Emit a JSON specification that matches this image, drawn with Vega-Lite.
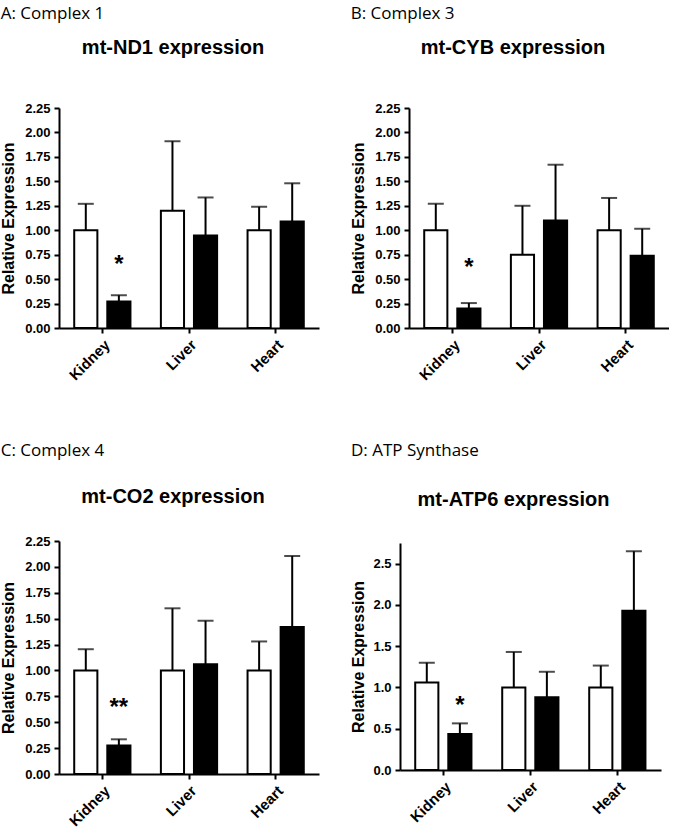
{
  "$schema": "https://vega.github.io/schema/vega-lite/v6.json",
  "padding": {"left": 0, "top": 5, "right": 0, "bottom": 0},
  "background": "white",
  "config": {
    "view": {"stroke": null},
    "font": "Liberation Sans",
    "axis": {"domainColor": "black", "domainWidth": 2, "tickColor": "black", "tickWidth": 2, "tickSize": 5, "labelColor": "black", "labelFont": "Liberation Sans", "labelFontWeight": "bold", "labelFontSize": 13, "labelPadding": 4, "labelOverlap": false, "titleColor": "black", "titleFont": "Liberation Sans", "titleFontWeight": "bold", "titleFontSize": 16, "grid": false},
    "title": {"font": "Liberation Sans", "fontWeight": "bold", "fontSize": 20, "color": "black"}
  },
  "columns": 2,
  "align": "none",
  "spacing": {"row": 51, "column": 31},
  "concat": [
    {
      "title": {"text": "A: Complex 1", "anchor": "start", "frame": "bounds", "font": "Open Sans", "fontWeight": "normal", "fontSize": 17, "offset": 15},
      "vconcat": [{
        "width": 260, "height": 220,
        "title": {"text": "mt-ND1 expression", "dx": -16, "offset": 44},
        "data": {"values": [
          {"tissue": "Kidney", "group": "Control", "mean": 1.00, "upper": 1.27},
          {"tissue": "Kidney", "group": "Treated", "mean": 0.27, "upper": 0.335, "sig": "*"},
          {"tissue": "Liver", "group": "Control", "mean": 1.20, "upper": 1.91},
          {"tissue": "Liver", "group": "Treated", "mean": 0.945, "upper": 1.335},
          {"tissue": "Heart", "group": "Control", "mean": 1.00, "upper": 1.24},
          {"tissue": "Heart", "group": "Treated", "mean": 1.09, "upper": 1.48}
        ]},
        "encoding": {
          "x": {"field": "tissue", "type": "nominal", "sort": ["Kidney", "Liver", "Heart"], "scale": {"paddingInner": 0, "paddingOuter": 0}, "axis": {"title": null, "labelAngle": -45, "labelFontSize": 15}},
          "xOffset": {"field": "group", "type": "nominal", "sort": ["Control", "Treated"], "scale": {"paddingInner": 0.3, "paddingOuter": 0.46}}
        },
        "layer": [
          {"mark": {"type": "bar", "stroke": "black", "strokeWidth": 2},
           "encoding": {
             "y": {"field": "mean", "type": "quantitative", "scale": {"domain": [0, 2.25], "nice": false}, "axis": {"title": "Relative Expression", "values": [0, 0.25, 0.5, 0.75, 1, 1.25, 1.5, 1.75, 2, 2.25], "format": ".2f", "titlePadding": 8, "labelOverlap": false}},
             "fill": {"field": "group", "type": "nominal", "scale": {"domain": ["Control", "Treated"], "range": ["white", "black"]}, "legend": null}
           }},
          {"mark": {"type": "rule", "strokeWidth": 2, "color": "black"}, "encoding": {"y": {"field": "mean", "type": "quantitative", "axis": {"title": "Relative Expression", "values": [0, 0.25, 0.5, 0.75, 1, 1.25, 1.5, 1.75, 2, 2.25], "format": ".2f", "titlePadding": 8, "labelOverlap": false}}, "y2": {"field": "upper"}}},
          {"mark": {"type": "tick", "thickness": 2, "size": 16, "color": "black"}, "encoding": {"y": {"field": "upper", "type": "quantitative", "axis": {"title": "Relative Expression", "values": [0, 0.25, 0.5, 0.75, 1, 1.25, 1.5, 1.75, 2, 2.25], "format": ".2f", "titlePadding": 8, "labelOverlap": false}}}},
          {"transform": [{"filter": "isValid(datum.sig)"}], "mark": {"type": "text", "fontSize": 24, "fontWeight": "bold", "baseline": "middle", "dy": -30, "color": "black"}, "encoding": {"y": {"field": "upper", "type": "quantitative", "axis": {"title": "Relative Expression", "values": [0, 0.25, 0.5, 0.75, 1, 1.25, 1.5, 1.75, 2, 2.25], "format": ".2f", "titlePadding": 8, "labelOverlap": false}}, "text": {"field": "sig"}}}
        ]
      }]
    },
    {
      "title": {"text": "B: Complex 3", "anchor": "start", "frame": "bounds", "font": "Open Sans", "fontWeight": "normal", "fontSize": 17, "offset": 15},
      "vconcat": [{
        "width": 260, "height": 220,
        "title": {"text": "mt-CYB expression", "dx": -26, "offset": 44},
        "data": {"values": [
          {"tissue": "Kidney", "group": "Control", "mean": 1.00, "upper": 1.27},
          {"tissue": "Kidney", "group": "Treated", "mean": 0.20, "upper": 0.255, "sig": "*"},
          {"tissue": "Liver", "group": "Control", "mean": 0.75, "upper": 1.25},
          {"tissue": "Liver", "group": "Treated", "mean": 1.10, "upper": 1.67},
          {"tissue": "Heart", "group": "Control", "mean": 1.00, "upper": 1.33},
          {"tissue": "Heart", "group": "Treated", "mean": 0.74, "upper": 1.015}
        ]},
        "encoding": {
          "x": {"field": "tissue", "type": "nominal", "sort": ["Kidney", "Liver", "Heart"], "scale": {"paddingInner": 0, "paddingOuter": 0}, "axis": {"title": " ", "titleFontSize": 8, "titlePadding": 0, "labelAngle": -45, "labelFontSize": 15}},
          "xOffset": {"field": "group", "type": "nominal", "sort": ["Control", "Treated"], "scale": {"paddingInner": 0.3, "paddingOuter": 0.46}}
        },
        "layer": [
          {"mark": {"type": "bar", "stroke": "black", "strokeWidth": 2},
           "encoding": {
             "y": {"field": "mean", "type": "quantitative", "scale": {"domain": [0, 2.25], "nice": false}, "axis": {"title": "Relative Expression", "values": [0, 0.25, 0.5, 0.75, 1, 1.25, 1.5, 1.75, 2, 2.25], "format": ".2f", "titlePadding": 8, "labelOverlap": false}},
             "fill": {"field": "group", "type": "nominal", "scale": {"domain": ["Control", "Treated"], "range": ["white", "black"]}, "legend": null}
           }},
          {"mark": {"type": "rule", "strokeWidth": 2, "color": "black"}, "encoding": {"y": {"field": "mean", "type": "quantitative", "axis": {"title": "Relative Expression", "values": [0, 0.25, 0.5, 0.75, 1, 1.25, 1.5, 1.75, 2, 2.25], "format": ".2f", "titlePadding": 8, "labelOverlap": false}}, "y2": {"field": "upper"}}},
          {"mark": {"type": "tick", "thickness": 2, "size": 16, "color": "black"}, "encoding": {"y": {"field": "upper", "type": "quantitative", "axis": {"title": "Relative Expression", "values": [0, 0.25, 0.5, 0.75, 1, 1.25, 1.5, 1.75, 2, 2.25], "format": ".2f", "titlePadding": 8, "labelOverlap": false}}}},
          {"transform": [{"filter": "isValid(datum.sig)"}], "mark": {"type": "text", "fontSize": 24, "fontWeight": "bold", "baseline": "middle", "dy": -35, "color": "black"}, "encoding": {"y": {"field": "upper", "type": "quantitative", "axis": {"title": "Relative Expression", "values": [0, 0.25, 0.5, 0.75, 1, 1.25, 1.5, 1.75, 2, 2.25], "format": ".2f", "titlePadding": 8, "labelOverlap": false}}, "text": {"field": "sig"}}}
        ]
      }]
    },
    {
      "title": {"text": "C: Complex 4", "anchor": "start", "frame": "bounds", "font": "Open Sans", "fontWeight": "normal", "fontSize": 17, "offset": 27},
      "vconcat": [{
        "width": 260, "height": 233,
        "title": {"text": "mt-CO2 expression", "dx": -16, "offset": 28},
        "data": {"values": [
          {"tissue": "Kidney", "group": "Control", "mean": 1.00, "upper": 1.205},
          {"tissue": "Kidney", "group": "Treated", "mean": 0.275, "upper": 0.335, "sig": "**"},
          {"tissue": "Liver", "group": "Control", "mean": 1.00, "upper": 1.60},
          {"tissue": "Liver", "group": "Treated", "mean": 1.06, "upper": 1.48},
          {"tissue": "Heart", "group": "Control", "mean": 1.00, "upper": 1.28},
          {"tissue": "Heart", "group": "Treated", "mean": 1.42, "upper": 2.105}
        ]},
        "encoding": {
          "x": {"field": "tissue", "type": "nominal", "sort": ["Kidney", "Liver", "Heart"], "scale": {"paddingInner": 0, "paddingOuter": 0}, "axis": {"title": null, "labelAngle": -45, "labelFontSize": 15}},
          "xOffset": {"field": "group", "type": "nominal", "sort": ["Control", "Treated"], "scale": {"paddingInner": 0.3, "paddingOuter": 0.46}}
        },
        "layer": [
          {"mark": {"type": "bar", "stroke": "black", "strokeWidth": 2},
           "encoding": {
             "y": {"field": "mean", "type": "quantitative", "scale": {"domain": [0, 2.25], "nice": false}, "axis": {"title": "Relative Expression", "values": [0, 0.25, 0.5, 0.75, 1, 1.25, 1.5, 1.75, 2, 2.25], "format": ".2f", "titlePadding": 8, "labelOverlap": false}},
             "fill": {"field": "group", "type": "nominal", "scale": {"domain": ["Control", "Treated"], "range": ["white", "black"]}, "legend": null}
           }},
          {"mark": {"type": "rule", "strokeWidth": 2, "color": "black"}, "encoding": {"y": {"field": "mean", "type": "quantitative", "axis": {"title": "Relative Expression", "values": [0, 0.25, 0.5, 0.75, 1, 1.25, 1.5, 1.75, 2, 2.25], "format": ".2f", "titlePadding": 8, "labelOverlap": false}}, "y2": {"field": "upper"}}},
          {"mark": {"type": "tick", "thickness": 2, "size": 16, "color": "black"}, "encoding": {"y": {"field": "upper", "type": "quantitative", "axis": {"title": "Relative Expression", "values": [0, 0.25, 0.5, 0.75, 1, 1.25, 1.5, 1.75, 2, 2.25], "format": ".2f", "titlePadding": 8, "labelOverlap": false}}}},
          {"transform": [{"filter": "isValid(datum.sig)"}], "mark": {"type": "text", "fontSize": 24, "fontWeight": "bold", "baseline": "middle", "dy": -31, "color": "black"}, "encoding": {"y": {"field": "upper", "type": "quantitative", "axis": {"title": "Relative Expression", "values": [0, 0.25, 0.5, 0.75, 1, 1.25, 1.5, 1.75, 2, 2.25], "format": ".2f", "titlePadding": 8, "labelOverlap": false}}, "text": {"field": "sig"}}}
        ]
      }]
    },
    {
      "title": {"text": "D: ATP Synthase", "anchor": "start", "frame": "bounds", "font": "Open Sans", "fontWeight": "normal", "fontSize": 17, "offset": 30},
      "vconcat": [{
        "width": 261, "height": 227,
        "title": {"text": "mt-ATP6 expression", "dx": -17, "offset": 33},
        "data": {"values": [
          {"tissue": "Kidney", "group": "Control", "mean": 1.06, "upper": 1.30},
          {"tissue": "Kidney", "group": "Treated", "mean": 0.435, "upper": 0.565, "sig": "*"},
          {"tissue": "Liver", "group": "Control", "mean": 1.00, "upper": 1.43},
          {"tissue": "Liver", "group": "Treated", "mean": 0.88, "upper": 1.19},
          {"tissue": "Heart", "group": "Control", "mean": 1.00, "upper": 1.265},
          {"tissue": "Heart", "group": "Treated", "mean": 1.93, "upper": 2.65}
        ]},
        "encoding": {
          "x": {"field": "tissue", "type": "nominal", "sort": ["Kidney", "Liver", "Heart"], "scale": {"paddingInner": 0, "paddingOuter": 0}, "axis": {"title": null, "labelAngle": -45, "labelFontSize": 15}},
          "xOffset": {"field": "group", "type": "nominal", "sort": ["Control", "Treated"], "scale": {"paddingInner": 0.3, "paddingOuter": 0.46}}
        },
        "layer": [
          {"mark": {"type": "bar", "stroke": "black", "strokeWidth": 2},
           "encoding": {
             "y": {"field": "mean", "type": "quantitative", "scale": {"domain": [0, 2.75], "nice": false}, "axis": {"title": "Relative Expression", "values": [0, 0.5, 1, 1.5, 2, 2.5], "format": ".1f", "titlePadding": 6, "labelOverlap": false}},
             "fill": {"field": "group", "type": "nominal", "scale": {"domain": ["Control", "Treated"], "range": ["white", "black"]}, "legend": null}
           }},
          {"mark": {"type": "rule", "strokeWidth": 2, "color": "black"}, "encoding": {"y": {"field": "mean", "type": "quantitative", "axis": {"title": "Relative Expression", "values": [0, 0.5, 1, 1.5, 2, 2.5], "format": ".1f", "titlePadding": 6, "labelOverlap": false}}, "y2": {"field": "upper"}}},
          {"mark": {"type": "tick", "thickness": 2, "size": 16, "color": "black"}, "encoding": {"y": {"field": "upper", "type": "quantitative", "axis": {"title": "Relative Expression", "values": [0, 0.5, 1, 1.5, 2, 2.5], "format": ".1f", "titlePadding": 6, "labelOverlap": false}}}},
          {"transform": [{"filter": "isValid(datum.sig)"}], "mark": {"type": "text", "fontSize": 24, "fontWeight": "bold", "baseline": "middle", "dy": -17, "color": "black"}, "encoding": {"y": {"field": "upper", "type": "quantitative", "axis": {"title": "Relative Expression", "values": [0, 0.5, 1, 1.5, 2, 2.5], "format": ".1f", "titlePadding": 6, "labelOverlap": false}}, "text": {"field": "sig"}}}
        ]
      }]
    }
  ]
}
